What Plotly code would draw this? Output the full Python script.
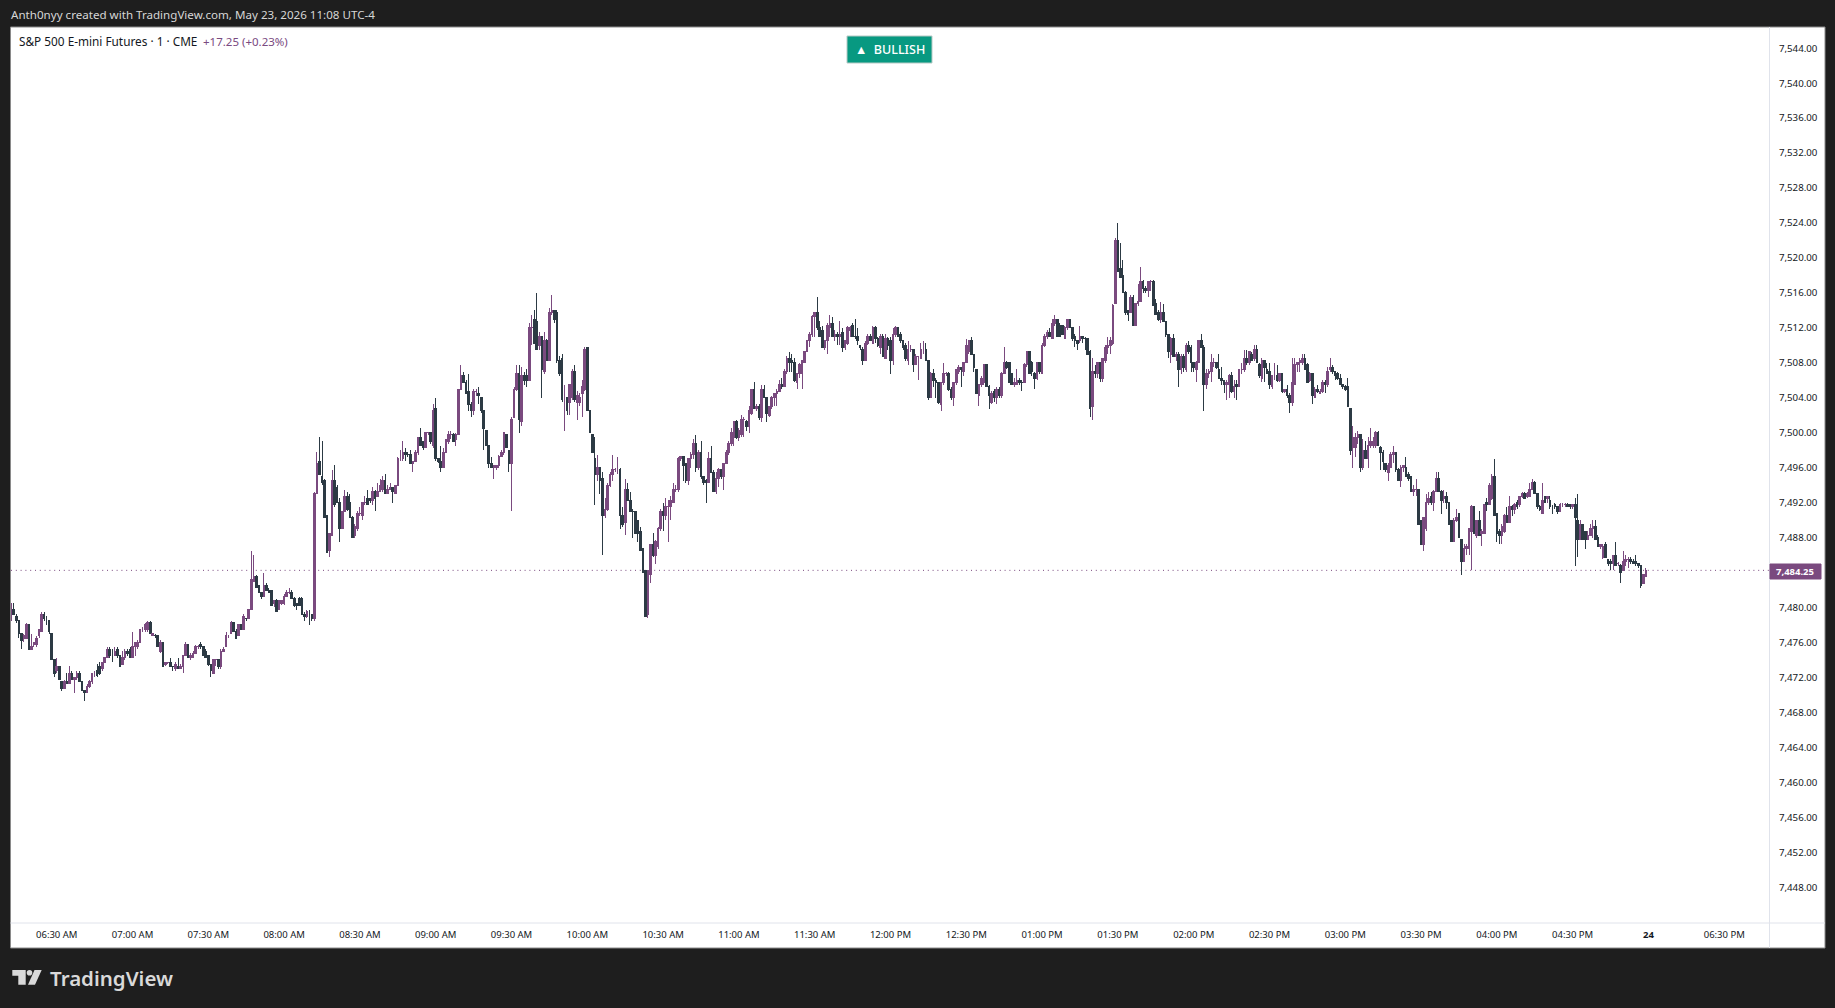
#!/usr/bin/env python3

import plotly.graph_objects as go

# one minute bars, prices are stored as points above BASE
BASE = 7400

OPENS = [
    79.25,79.75,79,78.5,77,76.5,76.5,78,75.25,75.75,
    75.75,76.75,77.25,79.25,78.5,78.5,77,74,72.75,73.25,
    71.5,70.75,71.5,71.25,72.5,71.75,72,72.5,71.5,70.5,
    70.25,71,71.5,72.5,72.75,73.25,73,73.75,74.25,75.25,
    74.5,74.5,75.25,74.5,73.5,74.25,75,75.25,74.25,75.5,
    75.5,76,77.5,77.5,77.5,78.25,76.75,76.75,76.75,75,
    76,73.5,73.75,73.75,73.25,73,73.25,73,73.25,74.5,
    75.75,74.25,74.25,74.75,75.5,75.75,75.5,75,74.5,73.5,
    72.5,74,74,73.25,75,75.5,76.75,77,78.25,77.25,
    76.75,78,77.5,78.75,78.75,79.75,83,83.5,82.5,81.75,
    81.25,82.5,82,82,80.5,80.75,79.75,80.5,80.5,81.25,
    81.75,81.75,81,80.5,81,81,79.25,79,79.25,79.25,
    78.75,93,96.75,95,94.5,90.5,86.5,88.25,94.5,93.75,
    92,89,91,92.75,92,90.25,88.25,89,90.75,90.5,
    92,92.5,92.5,92.25,93.25,92.75,93.25,93.5,94.5,93,
    93.5,93.75,93,94,97,97,97.75,97.5,97.5,96.5,
    96.75,97.75,99.5,99,98.25,100,100,98.5,102.75,97,
    96.75,96,97.75,99,99.75,99.75,99.25,99.75,105,106.5,
    105.75,104.75,103.25,102.5,104.75,104.5,104,102.5,100.25,98.5,
    96.5,96,96,96.25,97.25,97.75,99.75,98,96.5,101.75,
    105,106.75,101.25,106.5,106.5,106,112,113,112.75,110,
    111,107,110.5,108.25,113.75,114,113.75,108.25,108.5,104,
    104,103.5,104,107,103.5,103.5,104.5,105,109.75,102.5,
    99.75,97,95.25,96,94.75,90.5,91.25,94,95.25,95.75,
    95.75,95.75,90.5,89.75,93.5,92.25,91,91,90,88.75,
    86.75,84.25,79.25,83.75,87.25,86,87,89,91,90.5,
    91.5,91.5,92,93.5,93.5,97,97.25,96.5,94.5,97,
    97.5,98.75,96,97.75,95,94.5,94.25,97,95.5,93.25,
    94.75,95.75,95,96.5,97.75,98.75,99.5,101.25,99.5,99.75,
    101.5,101.25,100.75,102.25,105,102.75,103,101.75,105,104,
    102,103,104,104.5,104.75,105.5,105.25,107,108.5,108.25,
    108,105.75,106.75,106.75,108,109.25,110.5,111.25,113.25,113.75,
    112,111.75,109.75,110.5,112,112.5,111,111.25,111,111.5,
    109.75,110.25,111.75,112.25,111,111,110,109.5,108.25,110.25,
    111,110.25,112,110.75,109.75,111,108.5,110.75,110.5,108.25,
    111.25,112,111.25,110.5,110,108.25,109.5,109.5,107.75,108.75,
    108.5,109.5,109.5,108.25,104,106.75,106,105.75,103.25,105.75,
    106.75,106.75,105,104,105.75,107,107.5,107,108,109.25,110.5,
    109,107.25,104.25,105.5,105.75,107.75,105.25,103.5,104.75,104,
    105,104.25,106.75,108,108,106.75,105.5,105.5,106,105.75,105.75,
    107.75,109.25,108,106.75,106.25,108,106.75,110,111,111.5,
    110.75,112.5,113,112.25,112.25,110.75,112,113,112,111,
    110.5,110.5,111,110.75,110.75,109.25,103,107,106.75,108,
    106.25,108.25,109.75,110,110.25,114.75,122,118.75,118,116,
    114,113.75,115.5,112.25,114.75,115,117.25,116.5,116.25,117.25,
    117.25,114.75,113.75,113,113.75,112.75,111.25,109,110.75,108.75,
    109,107.25,108.75,107.25,110,109.75,108,107.25,108,110.5,
    109.75,105.5,106.75,107,108,108,107.25,106.25,106,105.5,
    105.5,106.5,104.75,105.5,105.25,107.25,107.25,108.5,108,
    109,108.5,109.5,107.75,106.25,108.25,107.25,107,105.25,106.5,
    106.5,106,106.75,104.75,105,104.25,103.5,105.5,107.75,108,
    108,108.5,107.75,106,106.75,104,105,104.5,104.75,105.75,
    105.5,107.25,107.5,107,106.75,106.25,105.5,105.25,105.25,102.75,
    98.25,98.25,99.5,99.75,96,98,97,98.5,98.5,98.5,
    100,98.25,97.75,96.5,95.5,96,97.5,97.75,95.75,94.5,
    96,96,95.25,95,93.25,93.5,93.5,90,87.25,89,
    92,92.75,92,93.25,94.75,93.25,92.5,92.75,92,90,
    87.5,90,90.75,87.75,85.25,86.75,86.75,88.75,91.5,88.25,
    90,88.5,88.5,92,91.75,92.5,95,90.75,88.75,88.25,
    88.75,90.5,89.75,91.5,91.25,92,91.75,92.75,93,92.75,
    92.75,93.5,94.25,93,91.5,90.75,92.75,92.5,92.25,91.5,
    91.75,91.5,91,91.75,91.75,91.75,91.75,91.5,91.75,90,
    87.75,89.5,88.75,87.75,88.25,89,89.25,88,87,85.75,
    87.25,85.5,85.25,85,86,85,84.75,84.25,85.25,85.5,
    85.5,85.25,85.25,85,84.75,82.75,83.5,
]

HIGHS = [
    80.5,80.5,79.25,78.5,77,77,78.25,78,77,76,
    76.75,77.5,79.5,79.5,79,78.5,77,74,74.25,73.25,
    71.5,71.75,72.5,73.25,72.75,72,72.75,72.75,71.5,70.5,
    71.25,71.75,72.5,72.75,73.5,73.75,73.75,74.25,75.5,75.5,
    75.25,75.5,75.5,74.5,75,75.25,75.25,75.5,77.25,76,
    76.25,77.5,77.75,78.25,78.5,78.5,77,77,76.75,76.25,
    76,73.75,73.75,74.25,73.25,73.75,74.25,73.5,74.5,76,
    75.75,74.75,75,75.75,75.75,76,75.5,75.25,74.5,73.5,
    74,74,74,75.25,75.5,77.25,76.75,78.5,78.25,77.5,
    78,78,79.25,78.75,79.75,86.5,86,83.75,82.5,81.75,
    84,82.75,82.25,82,80.75,81,80.75,80.75,81.5,82,
    82.25,82,81.25,80.5,81.25,81.25,79.5,79.75,79.75,79.25,
    93.25,97.75,99.5,99,94.75,90.5,88.5,95.75,96.25,94,
    92.5,91,93.5,93.25,93,90.5,89.5,91,91.5,92,
    92.75,93.5,92.5,93.75,93.5,94.25,94.75,95,95.25,94,
    94.25,93.75,94,97.25,98,99,98.25,97.75,98,96.75,
    98,99.5,100.5,99,100,100,100,103.25,104,97,
    98.5,98.25,99.25,100.25,100.25,100,100,105,107.75,107,
    106,106.75,103.5,105,105,105.25,104,102.5,100.25,98.5,
    97.25,96.25,96.25,97.5,98,100,99.75,98,101.75,105.25,
    107.75,107.75,107.5,107,107.25,112.5,113.5,114,116,111.5,
    111,111.5,110.75,114.25,115.75,114,114,108.75,109,105.5,
    104,105.5,107.25,107.75,104.75,104.5,106,109.75,109.75,102.5,
    99.75,99.5,97.5,96,95.5,92.5,94.25,95.5,97.5,96,
    97.25,96,91.5,94.75,94.25,93.25,91.25,91,90,89.25,
    86.75,84.25,84.25,87.25,88.5,87.75,89.25,91.25,92,92.5,
    92.25,92.75,94.25,94,97.25,97.25,97.25,96.5,97,97.75,
    99.25,99.75,98,99,95,94.75,97.75,98.5,95.75,95.5,
    96,95.75,96.5,98,99,100.5,101.25,101.5,100.5,102,
    101.75,101.5,103,105,105.75,103.25,103.25,105.5,105.5,104,
    103,104.25,104.5,105,106,106.25,107.25,108.75,109.25,109,
    108.5,106.5,108,108.25,109.25,110.5,111.5,113.5,113.75,115.5,
    112.75,112.25,110.5,112.5,113.5,113.25,111.75,111.5,112.75,112,
    110.5,112.25,112.25,112.5,113,112,110,109.75,110.5,111.25,
    111.25,112.25,112.25,111,111.25,111.25,111.25,111,111,112,
    112.25,112,111.5,110.5,110.25,110.5,110,109.5,109,108.75,
    110.25,110.5,110.25,108.25,107,107.25,106.25,105.75,105.75,108,
    107,107,105.25,105.75,107.25,107.75,107.5,108,110.75,110.5,111,
    109,107.25,105.5,106.5,107.75,107.75,105.5,104.75,105,105.25,
    105.25,107,109.75,108.25,108,106.75,106.25,107.25,106.25,106,108,
    109.25,109.25,108.25,107,108,108,110.25,111.25,111.75,112,
    113,113.5,113,112.5,112.25,112.25,113,113,112,111.25,
    110.5,112.25,111,111,110.75,109.5,108.5,107.75,108,108,
    108.5,110,111,111,114.75,122.25,124,121.75,119.75,116.25,
    114,115.75,115.75,114.75,117,119,117.5,116.75,117.25,117.5,
    117.5,115.25,114,115,114.75,112.75,111.25,111,111.25,109.25,
    109.25,109,109,110.25,110.5,110,108,108.25,110.5,111.25,
    110,107.25,107.25,109,108.5,108,109,107.5,106,106,
    106.75,107,106,106,107.25,108,109.5,109.5,109.25,
    109.25,110,110,108,108.5,108.25,108,108,106.5,108,
    107.75,106.75,106.75,105,105.5,104.5,108.5,108.5,108,108.5,
    109,109,108,107,106.75,105.25,105.5,105,106,106,
    107.5,108.5,107.75,107,107,106.75,105.5,105.5,106.25,102.75,
    100.75,100,100.25,99.75,99.25,99,99.5,100.5,99.5,100.25,
    100.25,98.5,98,96.5,96.5,97.75,98.5,97.75,96,96.25,
    96.25,97.25,95.5,95,94,94.75,93.5,90,90.25,93,
    93.25,93.25,93.5,95.5,95.5,93.5,93.5,93.25,92,90,
    90.25,91.25,90.75,87.75,87.25,87.25,89,91.75,91.5,90,
    91,89,91.75,92.5,94.25,95.25,97,90.75,89,89.5,
    90.75,91.5,92.75,91.75,92,92.25,92.75,93.25,93.25,93.25,
    94.25,94.75,94.5,93,91.75,94.25,92.75,92.75,92.75,91.75,
    92,91.5,92,92,92,92,91.75,91.75,92.5,93,
    90,89.5,88.75,88.75,89.5,90,90,88.25,87.25,87.25,
    87.5,85.5,85.5,86,87.5,85.25,85,86.5,86,85.75,
    85.75,85.5,86,85,84.75,83.75,84.5,
]

LOWS = [
    78.5,79.25,78.25,76.5,75.25,76,76.5,75.25,75.25,75.5,
    75.5,76.5,77.25,78.5,78,77,74,72,72.5,71.75,
    70.5,70.75,71.25,71.25,71.75,70.25,71.75,71.5,70.5,69.25,
    70.25,70.75,71.25,72,72,72.25,72.75,73.75,74.25,74.25,
    73.75,74.5,74.25,73.25,73.5,74,74.5,74.25,74.25,74.5,
    75.25,76,77.25,77.25,77.25,77,76.75,76.5,75.5,74.75,
    73.25,73.25,73.5,73.25,72.75,72.75,73,73,72.5,74.5,
    74.25,74,74.25,74.75,75.25,75.25,74.5,74.25,73.25,72,
    72.5,73.25,73,73,75,75.5,76.5,77,77.25,76.5,
    76.75,77.5,77.5,78.5,78.75,79.75,83,82.25,81.75,81,
    81.25,82,81.75,80.25,80,79.5,79.75,80.25,80.25,81.25,
    81.5,81,80,79.75,80.25,79.25,78.5,78.75,78,78.5,
    78.5,93,95.25,94,90.25,86.25,85.75,88.25,91.5,92,
    87.5,89,91,91,90.25,88,88,88.75,90.5,90,
    91.75,91.75,92,91.75,91,92.75,93.25,93.25,93,93,
    93.5,92,93,94,96.75,96.75,96.75,97.25,96.5,95.5,
    96.75,97.5,98.5,98,98.25,99.75,98.75,98.25,96.75,96.5,
    95.5,96,97.75,98.75,99.25,99,98.5,99.75,105,105.75,
    104.5,102.5,101.75,102,104.25,103.25,102.25,98,98.5,96,
    96,94.75,95.75,96,97.25,97.5,98.25,95.5,91,101.75,
    104.75,100,100.75,105.5,105.25,106,110,110.25,109.5,109.5,
    104,106.75,108.25,108.25,113.5,112.5,108,106.5,103.5,100.25,
    102,102,103.75,103.5,101.5,103,101.75,104.75,102.5,100,
    97.75,91.75,94.5,93,86,90.25,91,93.75,94.5,95.5,
    95.25,89,89.25,88.25,92.25,91,88,88.5,87.5,86.5,
    84,79,78.75,82.75,85.75,85,86.75,88.75,88.75,90,
    87.5,90,92,93.25,93.25,96.75,94.5,94.25,94,96,
    97,95.5,95.75,94.75,94,92,94.25,95.5,93.25,93,
    93.75,94.75,93.5,96.5,97.5,98.5,98.5,99.25,99,99.5,
    99.5,100.25,100,102,102.75,102.5,101.5,101.25,104,101.25,
    101.75,102.75,103,103,104.75,105,105.25,106.75,107,107,
    105.75,105,106.25,105,108,109.25,109.75,111,111,111.75,
    111,109.75,109.5,109,111,111,110.5,110,110,109.25,
    109.5,110,111,111,110.75,110,109.5,107.75,108.25,110,
    110.5,110.25,110.25,109.75,109,108.75,108.5,109.5,106.75,107.75,
    111,111,110.25,109.5,108.25,107.75,109.25,107,107.75,106,
    108.5,109,108.25,103.75,104,105.25,104,103.25,102.5,105.5,
    106.5,104.75,103.75,103,105.5,106.75,105.25,106.5,108,109,109,
    107,104.5,103,105.25,105.5,105.25,102.75,103.25,103.5,103.25,
    104,104,106.75,107.25,105.75,105.5,105.25,105.5,105.5,104.75,105.75,
    107.5,106.75,106.5,105,106,106.75,106.75,109.75,110.75,111,
    110.75,112.25,111,111,111.25,110.75,111.75,112,110.5,109.75,
    109.5,110.25,110.25,109.5,109,101.75,101.5,106.25,106.25,105.75,
    105.75,108,109,109,110,114.75,118.5,117.75,116,113.5,
    112.75,113.75,112.25,112.25,114.5,115,116,116,115.5,116.25,
    114.5,113.5,112.75,112.5,112.75,111,108.5,108,108.75,108.25,
    105.25,106.75,107,107,109,107,107,105.75,108,109.75,
    102.5,105,106.25,105.75,107.5,107.25,106.25,105.5,104.5,103.75,
    104,104.5,104,103.75,105.25,106.75,107,107.75,107.75,
    108.25,108.25,108,106.25,105.75,105.75,106.75,105,105,106,
    105.75,105.75,104.5,104.5,104,102.25,103,105.5,107,107,
    107.75,107.25,105.75,105.75,103.25,104,104.5,104.5,104.5,104.5,
    105.25,107,106.75,106,106,105.5,105,104.75,103,97.5,
    96,97.25,98.75,95.5,95.75,97,96,98.25,98.25,98.25,
    98.5,95.75,95.75,95.5,94.5,96,96.5,95.5,94.5,93.75,
    95.5,95,94.5,93.25,92.75,92.75,89.5,87.25,86.5,88.75,
    91.75,91.75,91,93.25,93.25,90.75,92,91.25,89.5,87.5,
    87.5,89.75,88,83.75,85.25,86,86,84.25,88.5,88,
    88.25,87,88.5,91,91.75,92.25,90.5,87.5,87.25,87.25,
    88.5,89.75,89.75,90.5,90.75,91.25,91.5,92.5,92.5,92.5,
    92.75,93.5,93,91.25,91,90.75,92,92,91.25,90.75,
    91.25,90.75,91,91.5,91.5,91.5,91.25,91.25,84.75,85.75,
    87.75,87.75,86.75,87.75,88.25,88,87.75,87,86.75,85.5,
    85.75,84.75,84.25,84.25,84.75,84.75,82.75,84.25,84.75,84.5,
    85,85,84.75,84.5,82.25,82.75,83.5,
]

CLOSES = [
    79.75,79.25,78.5,77,76.25,76.75,78,75.25,75.5,76,
    76.5,77.5,79.25,78.75,78.5,77.25,74,72.5,73.25,71.75,
    70.75,71.5,71.25,72.5,71.75,72,72.5,71.5,70.5,70.25,
    71,71.5,72.5,72.5,72.25,72.5,73.75,74.25,75.25,74.5,
    74.5,75,74.5,73.25,74.25,75,74.75,74.25,75.5,76,
    76,77.5,77.5,78,78.25,77,77,76.75,75.5,76,
    73.25,73.75,73.75,73.25,73.25,73.5,73,73.25,74.5,75.75,
    74.25,74.5,74.75,75.5,75.5,75.5,74.5,74.25,73.5,72.75,
    74,74,73.25,75,75.25,76.75,76.75,78.25,77.25,76.5,
    78,77.5,79,78.75,79.75,83.25,83.5,82.25,81.75,81.25,
    82.5,82,81.75,80.25,80.75,79.5,80.75,80.75,81.25,81.75,
    81.75,81,80.25,80.25,80.25,79.25,79,79.5,79.25,78.75,
    93,96.5,95.25,94.25,90.25,86.25,88.5,94.5,91.75,92,
    89,91,92.75,91.25,90.25,88,89.25,90.75,90.75,92,
    92,91.75,92.25,93.25,92.5,93.25,94,94.5,93,93.5,
    93.75,93.25,94,97,97,97.75,97.5,97.5,96.5,96.75,
    97.75,99.5,98.5,98.25,100,100,99,102.5,97,96.75,
    96,97.75,99.25,99.75,99.75,99,99.75,105,106.5,105.75,
    104.5,103.25,102.5,104.75,104.75,104.25,102.5,100.5,98.5,96.5,
    96,96.25,96.25,97.25,97.75,100,98.25,96.5,101.5,105,
    106.75,101.5,106.5,106,106,112,112,110.25,109.5,111,
    107.25,110.5,108.25,113.75,114,113,108.25,106.75,103.75,104,
    102.5,105.5,107,103.75,104.25,104,105.25,109.5,102.5,100,
    97.75,95.25,96,94.5,90.5,91.25,94,95.25,95.75,95.75,
    95.75,90.5,89.5,93.5,92.25,91,91,88.5,88.5,86.5,
    84,79,84.25,87.25,86,87.5,89,91,90.5,91.5,
    91.5,92.25,93.5,93.5,97,97.25,96.25,94.5,97,97.5,
    98.75,96,97.75,95,94.25,94.25,97,95.5,93.25,94.75,
    95.75,95,96.5,97.75,98.75,100,101.25,99.5,100.25,101.5,
    101.5,100.75,102.5,105,102.75,103,101.75,105,104,102.25,
    103,104,104.5,104.75,105.5,105.25,107,108.5,108,108,
    106,106.75,107.75,108.25,109.25,110.5,111.25,113.25,113.75,112,
    111,109.75,110.5,112.25,112.5,111,111.25,111,111.25,109.75,
    110.5,112,112,111,111,110.5,109.75,108.25,110.25,111,
    110.5,112,110.75,110,111,108.75,110.75,110,108.25,111.25,
    112,111,110.5,109.75,108.5,109.5,109.5,107.75,108.75,108.75,
    109.5,109.5,108.25,104,106.75,106,105.75,103.5,105.75,106.75,
    106.75,105,104,105.75,107.25,107.5,107.25,108,110,110.5,109,
    107.5,104.5,105.5,106.25,107.75,105.25,104.25,104.5,104,105,
    104.25,106.75,108,107.5,105.75,105.5,105.75,106,105.75,105.75,107.75,
    109.25,106.75,107,106.25,108,107,110,111,111.5,111,
    112.5,113,111,111,111.25,112,113,112,110.75,110.5,
    110.25,111,110.75,110.75,109,102.75,107,106.75,108,106.25,
    108.5,109.75,110,110.5,114.5,122,118.5,117.75,116,113.75,
    113.5,115.5,112.25,114.75,115,117.25,116.5,116.25,117.25,117.25,
    114.5,113.5,113,113.75,112.75,111.25,109.25,110.75,108.75,109,
    107.25,108.75,107.5,110,109.25,108,107.5,108,110.5,109.75,
    105.5,106.75,107,108,108,107.5,106.25,106,105.5,105.75,
    106.5,104.75,105.25,105.25,107.25,107.25,108.5,108,109.25,
    108.25,109.5,108,106.5,108.25,107.5,106.75,105.5,106.5,106.5,
    106,106.75,104.75,105,104.25,103.5,105.75,107.75,108,108.25,
    108.5,107.25,105.75,106.75,104.25,105,104.75,104.75,105.75,105.5,
    107,107.5,107,106.5,106.25,105.5,105.25,105,103,98,
    99.5,99.5,99.75,96,98,97,98.5,99,99,100,
    98.5,97.75,96.75,95.75,96.25,97.5,97.75,95.75,94.5,96,
    96.25,95,94.75,93.25,93.5,93.5,89.5,87.25,90.25,92,
    92.5,92,93.25,94.75,93.25,92.25,92.75,92,89.5,87.5,
    90,90.25,88,85.25,86.75,87,89,91.5,88.5,90,
    88.25,88.75,91.75,91.75,94,95,90.5,88.5,88.25,89.25,
    90.5,89.75,91.5,91.25,91.75,91.5,92.75,93,92.5,93,
    93.5,94.25,93,91.5,91.25,92.25,92,92.75,91.5,91.5,
    91.5,91,91.75,91.75,91.75,91.5,91.5,91.75,90.25,87.75,
    89.5,87.75,87.75,88.25,89,89.25,87.75,87,87.25,87,
    85.75,85,85,86,84.75,85,84,85.25,85.5,85.5,
    85.25,85,85,84.75,82.5,83.75,84.25,
]

TIME_TICKS = [18, 48, 78, 108, 138, 168, 198, 228, 258, 288, 318, 348,
              378, 408, 438, 468, 498, 528, 558, 588, 618, 648, 678]
TIME_LABELS = ["06:30 AM", "07:00 AM", "07:30 AM", "08:00 AM", "08:30 AM", "09:00 AM",
               "09:30 AM", "10:00 AM", "10:30 AM", "11:00 AM", "11:30 AM", "12:00 PM",
               "12:30 PM", "01:00 PM", "01:30 PM", "02:00 PM", "02:30 PM", "03:00 PM",
               "03:30 PM", "04:00 PM", "04:30 PM", "<b>24</b>", "06:30 PM"]
PRICE_TICKS = [7448, 7452, 7456, 7460, 7464, 7468, 7472, 7476, 7480, 7488, 7492, 7496,
               7500, 7504, 7508, 7512, 7516, 7520, 7524, 7528, 7532, 7536, 7540, 7544]
LAST_PRICE = 7484.25

PURPLE = "#7a4a7f"
DARK = "#2c3a44"
BG = "#1e1e1e"
FONT = "Noto Sans"

# pane edges in pixels
W, H = 1835, 1008
L, R, T, B = 11, 1770, 27, 923


def px(x):
    return (x - L) / (R - L)


def py(y):
    return (B - y) / (B - T)


def rect(x0, y0, x1, y1, fill, line=None):
    return dict(type="rect", xref="paper", yref="paper", layer="below",
                x0=px(x0), y0=py(y0), x1=px(x1), y1=py(y1),
                fillcolor=fill, line=dict(color=line or fill, width=1))


def label(x, y, text, size, color, anchor="left", **font):
    return dict(xref="paper", yref="paper", x=px(x), y=py(y), text=text, showarrow=False,
                xanchor=anchor, yanchor="middle", align="left",
                font=dict(family=FONT, size=size, color=color, **font))


def path_of(points):
    return "M " + " L ".join(f"{px(a):.5f},{py(b):.5f}" for a, b in points) + " Z"


fig = go.Figure(
    go.Candlestick(
        x=list(range(len(CLOSES))),
        open=[BASE + v for v in OPENS],
        high=[BASE + v for v in HIGHS],
        low=[BASE + v for v in LOWS],
        close=[BASE + v for v in CLOSES],
        increasing=dict(line=dict(color=PURPLE, width=1), fillcolor=PURPLE),
        decreasing=dict(line=dict(color=DARK, width=1), fillcolor=DARK),
        whiskerwidth=0,
        hoverinfo="skip",
    )
)

logo_t = [(12.3, 970), (25.7, 970), (25.7, 984.7), (18.3, 984.7), (18.3, 975.7), (12.3, 975.7)]
logo_slash = [(34.5, 970), (41.7, 970), (35, 984.7), (28, 984.7)]

fig.update_layout(
    width=W,
    height=H,
    margin=dict(l=L, r=W - R, t=T, b=H - B, autoexpand=False),
    paper_bgcolor=BG,
    plot_bgcolor="white",
    showlegend=False,
    boxgap=0.2,
    boxgroupgap=0.2,
    xaxis=dict(
        range=[-0.1, 696.1],
        rangeslider=dict(visible=False),
        tickmode="array",
        tickvals=TIME_TICKS,
        ticktext=TIME_LABELS,
        showgrid=False,
        zeroline=False,
        showline=False,
        ticks="outside",
        ticklen=3,
        tickcolor="rgba(0,0,0,0)",
        tickfont=dict(family=FONT, size=9.5, color="#131722"),
    ),
    yaxis=dict(
        range=[7443.90, 7546.42],
        side="right",
        tickmode="array",
        tickvals=PRICE_TICKS,
        tickformat=",.2f",
        showgrid=False,
        zeroline=False,
        showline=False,
        ticks="outside",
        ticklen=6,
        tickcolor="rgba(0,0,0,0)",
        tickfont=dict(family=FONT, size=9.7, color="#131722"),
    ),
    shapes=[
        rect(10.5, 27, 1825, 948, "white", "#8a8a8a"),
        dict(type="line", xref="paper", yref="paper", layer="below", x0=px(1769.5), x1=px(1769.5),
             y0=py(27), y1=py(948), line=dict(color="#e0e3eb", width=1)),
        dict(type="line", xref="paper", yref="paper", layer="below", x0=px(10.5), x1=px(1825),
             y0=py(923), y1=py(923), line=dict(color="#e0e3eb", width=1)),
        dict(type="line", xref="paper", yref="y", layer="below", x0=0, x1=1, y0=LAST_PRICE, y1=LAST_PRICE,
             line=dict(color=PURPLE, width=1, dash="1px,3.8px")),
        rect(1770, 564, 1821, 579, PURPLE),
        rect(847, 36, 932, 63, "#089981", "#b7c9c5"),
        dict(type="path", xref="paper", yref="paper", layer="above", path=path_of(logo_t),
             fillcolor="#d9d9d9", line=dict(width=0)),
        dict(type="path", xref="paper", yref="paper", layer="above", path=path_of(logo_slash),
             fillcolor="#d9d9d9", line=dict(width=0)),
        dict(type="circle", xref="paper", yref="paper", layer="above", x0=px(26.7), x1=px(32.3),
             y0=py(975.5), y1=py(969.9), fillcolor="#d9d9d9", line=dict(width=0)),
    ],
    annotations=[
        label(9, 14.5, "Anth0nyy created with TradingView.com, May 23, 2026 11:08 UTC-4", 11.6, "#d6d6d6"),
        label(17, 41, "S&P 500 E-mini Futures · 1 · CME", 11.8, "#131722"),
        label(201, 41, "+17.25 (+0.23%)", 11.5, PURPLE),
        label(889.5, 49.5, "▲  BULLISH", 12.5, "white", anchor="center", weight=500),
        label(1795.5, 571, "<b>7,484.25</b>", 9.5, "white", anchor="center"),
        label(47.5, 978, "TradingView", 20.5, "#d9d9d9", weight=600),
    ],
)

# pixel sharp candles, the way the original canvas draws them
crisp = """
document.body.style.margin = '0';
document.body.style.background = '#1e1e1e';
document.querySelectorAll('.boxes path').forEach(function (p) {
    p.style.shapeRendering = 'crispEdges';
});
"""

fig.write_html("out.html", config=dict(displayModeBar=False), post_script=crisp)
